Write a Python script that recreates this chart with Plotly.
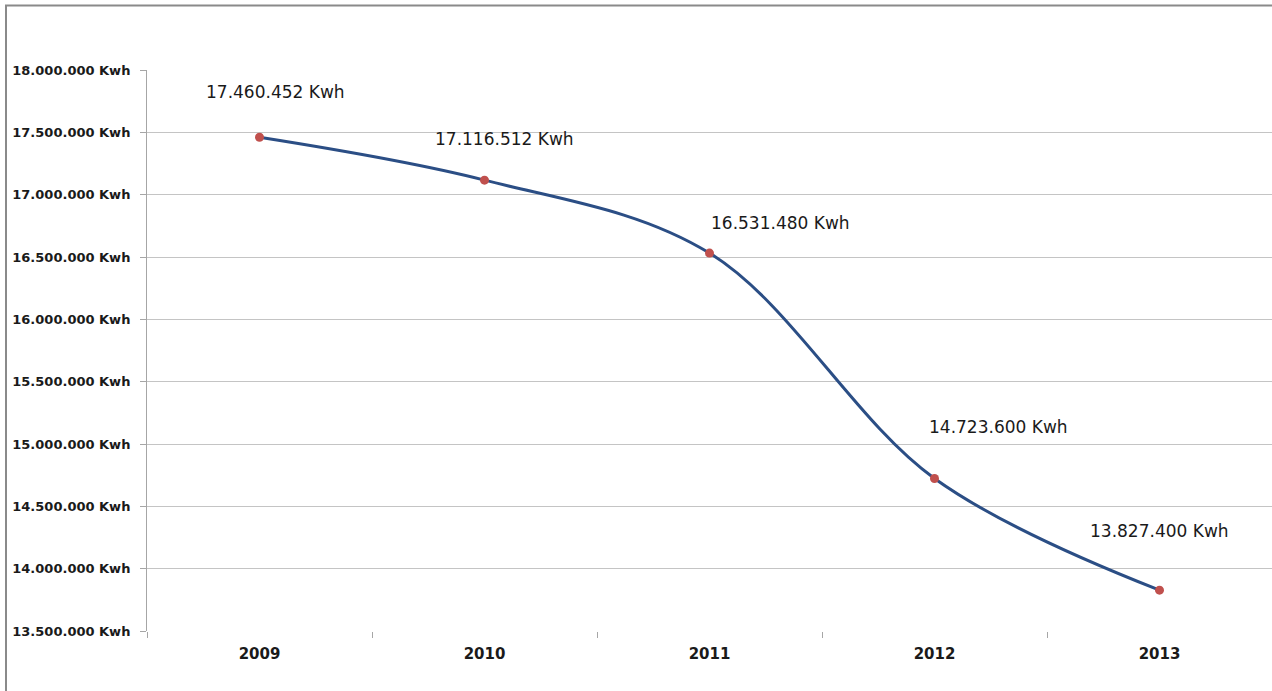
import plotly.graph_objects as go

# ---- data ----
years = ["2009", "2010", "2011", "2012", "2013"]
consumption_kwh = [17460452, 17116512, 16531480, 14723600, 13827400]
y_tick_values = [13500000, 14000000, 14500000, 15000000, 15500000,
                 16000000, 16500000, 17000000, 17500000, 18000000]
y_tick_labels = ["13.500.000 Kwh", "14.000.000 Kwh", "14.500.000 Kwh", "15.000.000 Kwh",
                 "15.500.000 Kwh", "16.000.000 Kwh", "16.500.000 Kwh", "17.000.000 Kwh",
                 "17.500.000 Kwh", "18.000.000 Kwh"]

# label styling offsets (pixels) for each data label
label_dx = [16, 20, 71, 64, 0]
label_dy = [45, 41, 30, 51, 59]


def fmt(v):
    return f"{v:,}".replace(",", ".") + " Kwh"


fig = go.Figure()
fig.add_trace(go.Scatter(
    x=years, y=consumption_kwh,
    mode="lines+markers",
    line=dict(color="#2b4e85", width=3, shape="spline", smoothing=1.0),
    marker=dict(color="#c0504d", size=9),
    showlegend=False, hoverinfo="x+y",
))

for i, (v, dx, dy) in enumerate(zip(consumption_kwh, label_dx, label_dy)):
    fig.add_annotation(
        x=i, y=v, xref="x", yref="y", text=fmt(v), showarrow=False,
        xshift=dx, yshift=dy,
        font=dict(family="DejaVu Sans", size=17, color="#1a1a1a"),
    )

W, H = 1272, 691
ml, mr, mt, mb = 147, 0, 70, 60
pw, ph = W - ml - mr, H - mt - mb

# outer chart border (top and left visible)
fig.add_shape(type="rect", xref="paper", yref="paper",
              x0=(6 - ml) / pw, x1=(W + 5 - ml) / pw,
              y0=-(H + 5 - mt - ph) / ph, y1=(H - 5.5 - mb) / ph,
              line=dict(color="#8a8a8a", width=2), layer="below")

fig.update_layout(
    width=W, height=H,
    margin=dict(l=ml, r=mr, t=mt, b=mb),
    paper_bgcolor="white", plot_bgcolor="white",
    xaxis=dict(
        type="category", range=[-0.5, 4.5],
        showgrid=False, showline=False, zeroline=False,
        ticks="outside", tickson="boundaries", ticklen=6, tickcolor="#a6a6a6",
        tickfont=dict(family="DejaVu Sans", size=15, color="#1a1a1a", weight="bold"),
        ticklabelstandoff=12,
    ),
    yaxis=dict(
        range=[13500000, 18000000],
        tickvals=y_tick_values, ticktext=y_tick_labels,
        showgrid=True, gridcolor="#c4c4c4", gridwidth=1,
        showline=True, linecolor="#a6a6a6", linewidth=1,
        zeroline=False,
        ticks="outside", ticklen=6, tickcolor="#a6a6a6",
        tickfont=dict(family="DejaVu Sans", size=13, color="#1a1a1a", weight="bold"),
        ticklabelstandoff=7,
    ),
)

fig.write_html("out.html")
